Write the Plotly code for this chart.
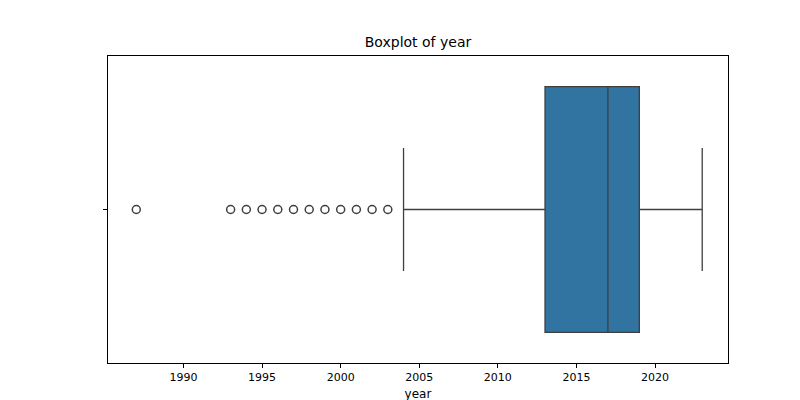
import plotly.graph_objects as go

q1 = [2013]
median = [2017]
q3 = [2019]
lower_fence = [2004]
upper_fence = [2023]
outliers = [1987, 1993, 1994, 1995, 1996, 1997, 1998, 1999, 2000, 2001, 2002, 2003]

fig = go.Figure()
fig.add_trace(go.Box(
    y=[0], q1=q1, median=median, q3=q3, lowerfence=lower_fence, upperfence=upper_fence,
    orientation="h", fillcolor="#3274a1", line=dict(color="#3f3f3f", width=1.3),
    width=0.8, whiskerwidth=0.5, boxpoints=False, hoverinfo="x",
))
fig.add_trace(go.Scatter(
    x=outliers, y=[0]*len(outliers), mode="markers",
    marker=dict(symbol="circle-open", size=8, color="#3f3f3f", line=dict(width=1.5)),
))
fig.update_layout(
    width=800, height=400, showlegend=False, plot_bgcolor="white", paper_bgcolor="white",
    margin=dict(l=100, r=80, t=48, b=45, autoexpand=False),
    font=dict(family="DejaVu Sans", size=11, color="black"),
    title=dict(text="Boxplot of year", x=0.5125, y=0.915, xanchor="center", yanchor="middle",
               font=dict(size=14)),
    xaxis=dict(range=[1985.2, 2024.64], tickvals=[1990, 1995, 2000, 2005, 2010, 2015, 2020],
               showgrid=False, zeroline=False, showline=True, linecolor="black", mirror=True,
               ticks="outside", ticklen=4, tickcolor="black", automargin=False,
               title=dict(text="year", standoff=6, font=dict(size=12))),
    yaxis=dict(range=[0.5, -0.5], tickvals=[0], ticktext=[""], showgrid=False, zeroline=False,
               showline=True, linecolor="black", mirror=True, ticks="outside", ticklen=4,
               tickcolor="black", automargin=False),
)
fig.write_html("out.html")
